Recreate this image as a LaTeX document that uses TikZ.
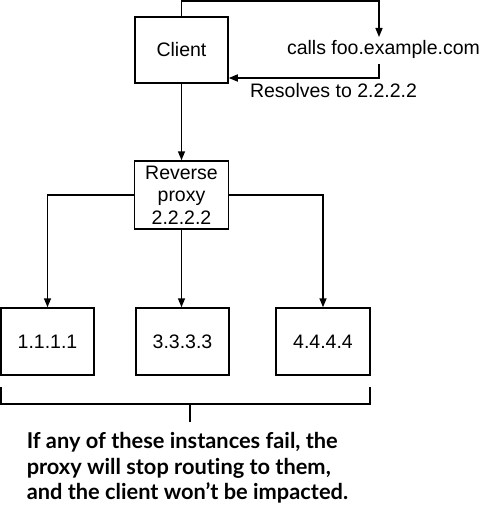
\documentclass[tikz,border=0pt]{standalone}
\usepackage{fontspec}
\setmainfont{Liberation Sans}
\newfontfamily\notefont[Ligatures=NoCommon]{Lato}
\usetikzlibrary{arrows.meta}
\begin{document}
\begin{tikzpicture}[x=1pt,y=-1pt,
  line width=1.5pt,
  box/.style={draw, line width=1.5pt, inner sep=0pt, font=\fontsize{19.5}{22.5}\selectfont, align=center},
  lbl/.style={inner sep=0pt, font=\fontsize{19.5}{22}\selectfont},
  arr/.style={-{Triangle[length=9pt,width=7pt]}}]
\useasboundingbox (0,0) rectangle (487,508);
\node[box, minimum width=93pt, minimum height=66pt] (client) at (181.5,50) {Client};
\node[box, minimum width=94pt, minimum height=68pt] (proxy) at (181.5,195) {Reverse\\proxy\\2.2.2.2};
\node[box, minimum width=93pt, minimum height=67pt] (b1) at (47.5,341.5) {1.1.1.1};
\node[box, minimum width=93pt, minimum height=67pt] (b2) at (182.5,341.5) {3.3.3.3};
\node[box, minimum width=94pt, minimum height=67pt] (b3) at (323,341.5) {4.4.4.4};
\node[lbl] (calls) at (383.5,49) {calls foo.example.com};
\node[lbl] (res) at (333.5,91) {Resolves to 2.2.2.2};
\coordinate (ct) at (379,37);
\coordinate (cb) at (379,64);
\draw[arr] (client.north) |- (379,1) -- (ct);
\draw[arr] (cb) |- (client.east |- 0,78);
\draw[arr] (client.south) -- (proxy.north);
\draw[arr] (proxy.west) -| (b1.north);
\draw[arr] (proxy.south) -- (proxy.south |- b2.north);
\draw[arr] (proxy.east) -| (b3.north);
\coordinate (bl) at (1,387);
\coordinate (br) at (370,387);
\coordinate (bm) at (190,404);
\coordinate (bt) at (190,422);
\draw (bl) |- (br |- bm) -- (br);
\draw (bm) -- (bt);
\node[anchor=north west, inner sep=0pt, align=left, font=\notefont\bfseries\fontsize{21.8}{25.5}\selectfont] (note) at (26,432) {If any of these instances fail, the\\proxy will stop routing to them,\\and the client won’t be impacted.};
\end{tikzpicture}
\end{document}
